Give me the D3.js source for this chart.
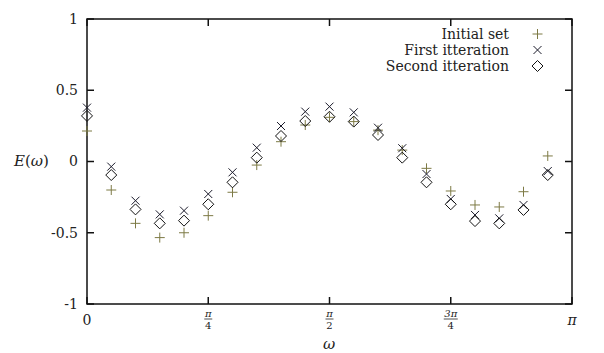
<!DOCTYPE html>
<html lang="en">
<head>
  <meta charset="UTF-8">
  <title>E(omega)</title>
  <script src="https://cdn.jsdelivr.net/npm/d3@7"></script>
  <style>
    body { margin: 0; padding: 0; background: #fff; }
  </style>
</head>
<body>
<div id="chart"></div>
<script>
// sample points at k*pi/20, k = 0..19
var omega = d3.range(0, 20).map(function(k) { return k * Math.PI / 20; });

var initialSet = [0.214, -0.20, -0.434, -0.534, -0.50, -0.38, -0.216, -0.025, 0.139, 0.256,
                  0.31, 0.28, 0.22, 0.08, -0.048, -0.207, -0.305, -0.319, -0.212, 0.039];
var firstIter  = [0.378, -0.036, -0.275, -0.371, -0.345, -0.228, -0.076, 0.097, 0.249, 0.35,
                  0.385, 0.345, 0.237, 0.093, -0.088, -0.263, -0.375, -0.399, -0.305, -0.067];
var secondIter = [0.32, -0.095, -0.336, -0.434, -0.415, -0.30, -0.146, 0.027, 0.179, 0.284,
                  0.314, 0.28, 0.186, 0.027, -0.146, -0.30, -0.418, -0.434, -0.34, -0.095];

var yTicks = [-1, -0.5, 0, 0.5, 1];
var yTickLabels = ["-1", "-0.5", "0", "0.5", "1"];
var xTicks = [0, Math.PI / 4, Math.PI / 2, 3 * Math.PI / 4, Math.PI];
var xTickLabels = [["0"], ["\u03C0", "4"], ["\u03C0", "2"], ["3\u03C0", "4"], ["\u03C0"]];
var legendNames = ["Initial set", "First itteration", "Second itteration"];

var W = 604, H = 353;
var margin = {left: 87, right: 32, top: 19, bottom: 49};
var serif = "DejaVu Serif";

var svg = d3.select("#chart").append("svg")
    .attr("width", W)
    .attr("height", H)
    .style("font-family", serif);

var x = d3.scaleLinear().domain([0, Math.PI]).range([margin.left, W - margin.right]);
var y = d3.scaleLinear().domain([-1, 1]).range([H - margin.bottom, margin.top]);

var tickLen = 7;
var ink = "#222";

// frame
svg.append("rect")
    .attr("x", x(0)).attr("y", y(1))
    .attr("width", x(Math.PI) - x(0))
    .attr("height", y(-1) - y(1))
    .attr("fill", "none")
    .attr("stroke", "#111")
    .attr("stroke-width", 1.5);

// y ticks, inward on both sides
yTicks.forEach(function(t, i) {
  svg.append("line")
      .attr("x1", x(0)).attr("x2", x(0) + tickLen)
      .attr("y1", y(t)).attr("y2", y(t))
      .attr("stroke", "#111").attr("stroke-width", 1.5);
  svg.append("line")
      .attr("x1", x(Math.PI)).attr("x2", x(Math.PI) - tickLen)
      .attr("y1", y(t)).attr("y2", y(t))
      .attr("stroke", "#111").attr("stroke-width", 1.5);
  svg.append("text")
      .attr("x", x(0) - 9)
      .attr("y", y(t))
      .attr("dy", "0.35em")
      .attr("text-anchor", "end")
      .attr("font-size", 14)
      .attr("fill", ink)
      .text(yTickLabels[i]);
});

// x ticks, inward on top and bottom
xTicks.forEach(function(t, i) {
  svg.append("line")
      .attr("x1", x(t)).attr("x2", x(t))
      .attr("y1", y(-1)).attr("y2", y(-1) - tickLen)
      .attr("stroke", "#111").attr("stroke-width", 1.5);
  svg.append("line")
      .attr("x1", x(t)).attr("x2", x(t))
      .attr("y1", y(1)).attr("y2", y(1) + tickLen)
      .attr("stroke", "#111").attr("stroke-width", 1.5);
  var lab = xTickLabels[i];
  if (lab.length === 1) {
    svg.append("text")
        .attr("x", x(t))
        .attr("y", 320)
        .attr("dy", "0.35em")
        .attr("text-anchor", "middle")
        .attr("font-size", 14)
        .attr("fill", ink)
        .style("font-style", lab[0] === "0" ? "normal" : "italic")
        .text(lab[0]);
  } else {
    svg.append("text")
        .attr("x", x(t)).attr("y", 313).attr("dy", "0.35em")
        .attr("text-anchor", "middle").attr("font-size", 10)
        .attr("fill", ink)
        .style("font-style", "italic")
        .text(lab[0]);
    svg.append("line")
        .attr("x1", x(t) - (lab[0].length > 1 ? 7 : 4)).attr("x2", x(t) + (lab[0].length > 1 ? 7 : 4))
        .attr("y1", 319).attr("y2", 319)
        .attr("stroke", ink).attr("stroke-width", 0.8);
    svg.append("text")
        .attr("x", x(t)).attr("y", 325).attr("dy", "0.35em")
        .attr("text-anchor", "middle").attr("font-size", 10)
        .attr("fill", ink)
        .text(lab[1]);
  }
});

// axis labels
svg.append("text")
    .attr("x", 329).attr("y", 344).attr("dy", "0.35em")
    .attr("text-anchor", "middle").attr("font-size", 15)
    .attr("fill", ink)
    .style("font-style", "italic")
    .text("\u03C9");

var ylab = svg.append("text")
    .attr("x", 14).attr("y", 161).attr("dy", "0.35em")
    .attr("font-size", 15)
    .attr("fill", ink);
ylab.append("tspan").style("font-style", "italic").text("E");
ylab.append("tspan").text("(");
ylab.append("tspan").style("font-style", "italic").text("\u03C9");
ylab.append("tspan").text(")");

// markers
var plusColor = "#7d7a45";
function drawPlus(g, cx, cy) {
  g.append("path")
      .attr("d", "M" + (cx - 5) + "," + cy + "H" + (cx + 5) + "M" + cx + "," + (cy - 5) + "V" + (cy + 5))
      .attr("stroke", plusColor).attr("stroke-width", 1).attr("fill", "none");
}
function drawCross(g, cx, cy) {
  g.append("path")
      .attr("d", "M" + (cx - 4) + "," + (cy - 4) + "L" + (cx + 4) + "," + (cy + 4) +
                 "M" + (cx - 4) + "," + (cy + 4) + "L" + (cx + 4) + "," + (cy - 4))
      .attr("stroke", "#1a1a2a").attr("stroke-width", 1).attr("fill", "none");
}
function drawDiamond(g, cx, cy) {
  g.append("path")
      .attr("d", "M" + cx + "," + (cy - 5.5) + "L" + (cx + 5.5) + "," + cy +
                 "L" + cx + "," + (cy + 5.5) + "L" + (cx - 5.5) + "," + cy + "Z")
      .attr("stroke", "#111").attr("stroke-width", 1).attr("fill", "none");
}

var pts = svg.append("g");
omega.forEach(function(w, i) {
  drawPlus(pts, x(w), y(initialSet[i]));
  drawCross(pts, x(w), y(firstIter[i]));
  drawDiamond(pts, x(w), y(secondIter[i]));
});

// legend
var drawers = [drawPlus, drawCross, drawDiamond];
var legY = [34, 50, 66];
legendNames.forEach(function(name, i) {
  svg.append("text")
      .attr("x", 509).attr("y", legY[i]).attr("dy", "0.35em")
      .attr("text-anchor", "end").attr("font-size", 14)
      .attr("fill", ink)
      .text(name);
  drawers[i](svg, 537.5, legY[i]);
});
</script>
</body>
</html>
